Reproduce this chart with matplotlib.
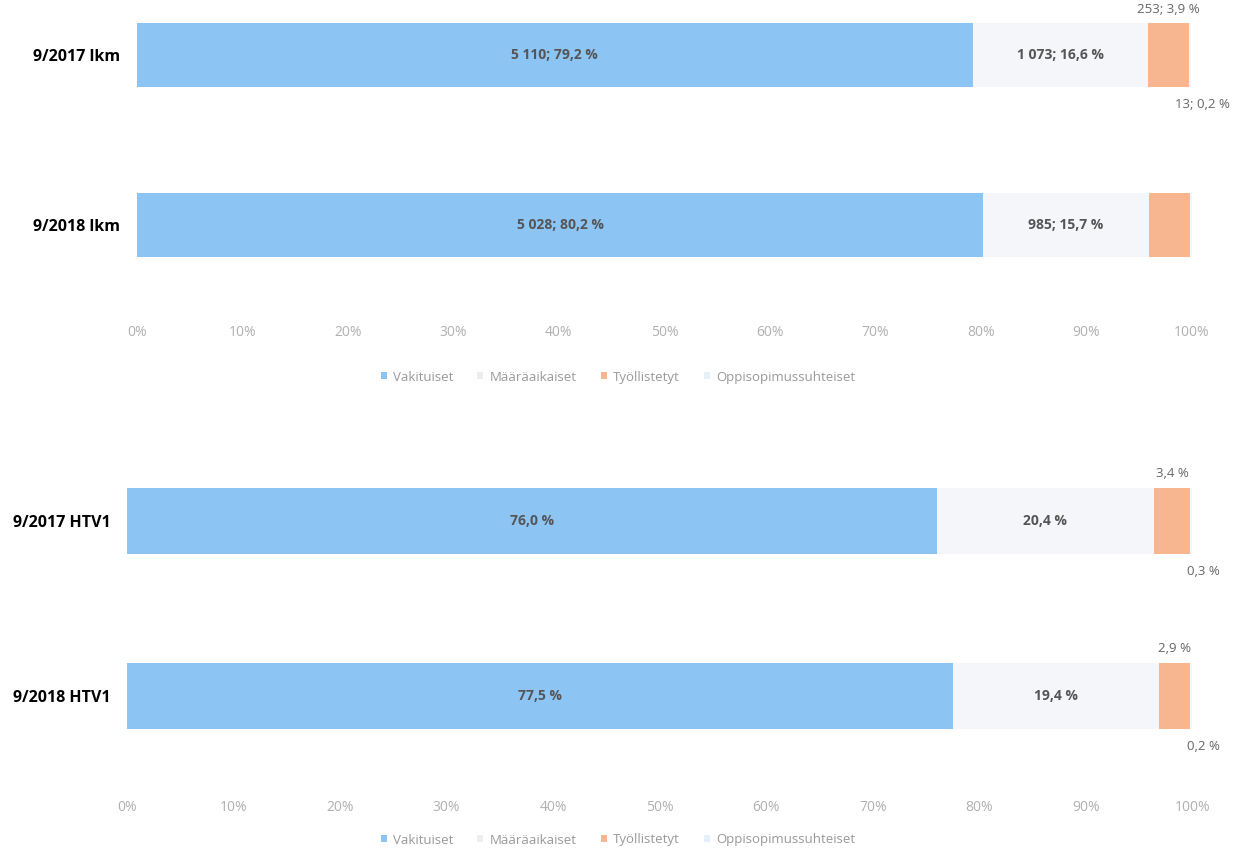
import numpy as np
import matplotlib.pyplot as plt
from matplotlib.patches import Patch

plt.rcParams['font.family'] = ['Open Sans', 'DejaVu Sans']

# Series names and colours
series = ['Vakituiset', 'Määräaikaiset', 'Työllistetyt', 'Oppisopimussuhteiset']
colors = ['#8cc4f4', '#f5f6f9', '#f7b68f', '#f1f6fb']

# Headcount chart (lkm), percent shares
lkm_rows = ['9/2017 lkm', '9/2018 lkm']
lkm_vakituiset = [79.2, 80.2]
lkm_maaraaikaiset = [16.6, 15.7]
lkm_tyollistetyt = [3.9, 3.9]
lkm_oppisopimus = [0.2, 0.2]
lkm_labels = [
    ['5 110; 79,2 %', '1 073; 16,6 %', '253; 3,9 %', '13; 0,2 %'],
    ['5 028; 80,2 %', '985; 15,7 %', '', ''],
]

# Person-year chart (HTV1), percent shares
htv_rows = ['9/2017 HTV1', '9/2018 HTV1']
htv_vakituiset = [76.0, 77.5]
htv_maaraaikaiset = [20.4, 19.4]
htv_tyollistetyt = [3.4, 2.9]
htv_oppisopimus = [0.3, 0.2]
htv_labels = [
    ['76,0 %', '20,4 %', '3,4 %', '0,3 %'],
    ['77,5 %', '19,4 %', '2,9 %', '0,2 %'],
]

ticks = np.arange(0, 101, 10)
tick_labels = [f'{t}%' for t in ticks]

fig = plt.figure(figsize=(12.36, 8.5), dpi=100)


def draw(ax, rows, data, labels, ylim, legend_y):
    y = np.arange(len(rows))
    left = np.zeros(len(rows))
    for vals, color, name in zip(data, colors, series):
        ax.barh(y, vals, left=left, height=0.38, color=color, label=name)
        left += np.array(vals)
    # segment labels
    for i in range(len(rows)):
        v = [d[i] for d in data]
        lab = labels[i]
        ax.text(v[0] / 2, y[i], lab[0], ha='center', va='center',
                fontsize=10, color='#555555', fontweight='bold')
        ax.text(v[0] + v[1] / 2, y[i], lab[1], ha='center', va='center',
                fontsize=10, color='#555555', fontweight='bold')
        if lab[2]:
            ax.text(v[0] + v[1] + v[2] / 2, y[i] - 0.27, lab[2], ha='center',
                    va='center', fontsize=9.5, color='#666666')
        if lab[3]:
            ax.text(101.0, y[i] + 0.29, lab[3], ha='center', va='center',
                    fontsize=9.5, color='#666666')
    ax.set_xlim(0, 100)
    ax.set_ylim(*ylim)
    ax.set_yticks(y)
    ax.set_yticklabels(rows, fontsize=11.5, fontweight='bold', color='black')
    ax.set_xticks(ticks)
    ax.set_xticklabels(tick_labels, fontsize=10, color='#b0b0b0')
    ax.tick_params(length=0, axis='both')
    ax.tick_params(axis='y', pad=12)
    for s in ax.spines.values():
        s.set_visible(False)
    handles = [Patch(facecolor=c, edgecolor='none') for c in colors]
    handles[1] = Patch(facecolor='#eceef1', edgecolor='none')
    handles[3] = Patch(facecolor='#e6f0fa', edgecolor='none')
    fig.legend(handles, series, loc='center', bbox_to_anchor=(0.5, legend_y),
               ncol=4, frameon=False, fontsize=9.5, labelcolor='#999999',
               handlelength=0.45, handleheight=0.45, columnspacing=1.8,
               handletextpad=0.5)


ax1 = fig.add_axes([0.1108, 0.6235, 0.8536, 0.3618])
draw(ax1, lkm_rows,
     [lkm_vakituiset, lkm_maaraaikaiset, lkm_tyollistetyt, lkm_oppisopimus],
     lkm_labels, (1.56, -0.25), 1 - 377 / 850)

ax2 = fig.add_axes([0.1027, 1 - 795 / 850, 0.862, (795 - 477) / 850])
draw(ax2, htv_rows,
     [htv_vakituiset, htv_maaraaikaiset, htv_tyollistetyt, htv_oppisopimus],
     htv_labels, (1.566, -0.25), 1 - 840 / 850)

fig.savefig('out.png', dpi=100)
